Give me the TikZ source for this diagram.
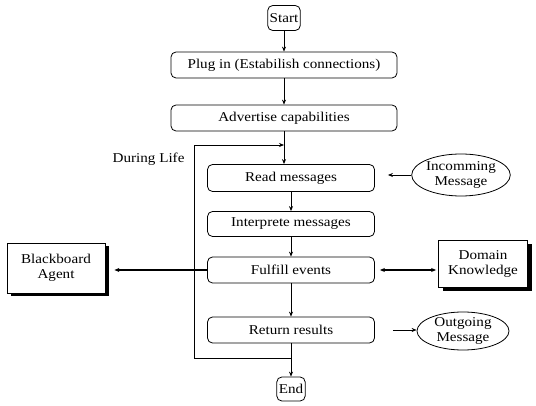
\documentclass[tikz,border=0pt]{standalone}
\usepackage{fontspec}
\setmainfont{Liberation Serif}[FakeStretch=1.12]
\usetikzlibrary{arrows.meta, shapes.geometric, shadows}

\tikzset{
  lbl/.style={font=\fontsize{13.5}{14.5}\selectfont},
  proc/.style={lbl, draw, line width=0.8pt, rounded corners=5pt, inner sep=2pt, minimum height=26pt},
  term/.style={proc, minimum height=25pt, inner xsep=2pt},
  agent/.style={lbl, draw, line width=0.8pt, fill=white, align=center,
    drop shadow={shadow xshift=4pt, shadow yshift=-3.5pt, fill=black, opacity=1}},
  msg/.style={lbl, draw, line width=0.8pt, ellipse, inner sep=0pt, align=center},
  flow/.style={->, line width=0.7pt},
  bold/.style={line width=1.6pt}
}

\begin{document}
\begin{tikzpicture}[x=1pt, y=-1pt, >={Stealth[length=5pt, width=4pt]}]
  \useasboundingbox (0,0) rectangle (536,406);
  % main column
  \node[term] (start) at (284,18) {Start};
  \node[proc, minimum width=226pt] (plug) at (284,65) {Plug in (Estabilish connections)};
  \node[proc, minimum width=226pt] (adv) at (284,118) {Advertise capabilities};
  \node[proc, minimum width=167pt, minimum height=27pt] (read) at (291,178) {Read messages};
  \node[proc, minimum width=167pt, minimum height=25pt] (interp) at (291,224) {Interprete messages};
  \node[proc, minimum width=167pt] (fulfill) at (291,270) {Fulfill events};
  \node[proc, minimum width=167pt] (ret) at (291,330) {Return results};
  \node[term, minimum height=24pt] (end) at (291,389) {End};
  \draw[flow] (start) -- (plug);
  \draw[flow] (plug) -- (adv);
  \draw[flow] (adv.south) -- (adv.south |- read.north);
  \draw[flow] (read) -- (interp);
  \draw[flow] (interp) -- (fulfill);
  \draw[flow] (fulfill) -- (ret);
  \draw[flow] (ret) -- (end);
  % life loop
  \coordinate (loopin) at (284,145);
  \coordinate (loopout) at (291,358);
  \coordinate (looptl) at (194,145);
  \coordinate (loopbl) at (194,358);
  \draw[flow] (loopout) -- (loopbl) -- (looptl) -- (loopin);
  \node[lbl, anchor=east] (life) at (188,159) {During Life};
  % side parties
  \node[agent, minimum width=98pt, minimum height=50pt] (bb) at (56,268) {Blackboard\\Agent};
  \node[agent, minimum width=89pt, minimum height=47pt] (dk) at (483,264) {Domain\\Knowledge};
  \node[msg, minimum width=97pt, minimum height=42pt] (inmsg) at (461,175) {Incomming\\Message};
  \node[msg, minimum width=92pt, minimum height=38pt] (outmsg) at (463,331) {Outgoing\\Message};
  \draw[->, bold, shorten >=9pt] (fulfill.west) -- (fulfill.west -| bb.east);
  \draw[<->, bold, shorten <=5pt, shorten >=2pt] (fulfill.east) -- (fulfill.east -| dk.west);
  \draw[flow, shorten >=13pt] (inmsg.west) -- (inmsg.west -| read.east);
  \draw[flow, shorten <=18pt] (ret.east) -- (ret.east -| outmsg.west);
\end{tikzpicture}
\end{document}
